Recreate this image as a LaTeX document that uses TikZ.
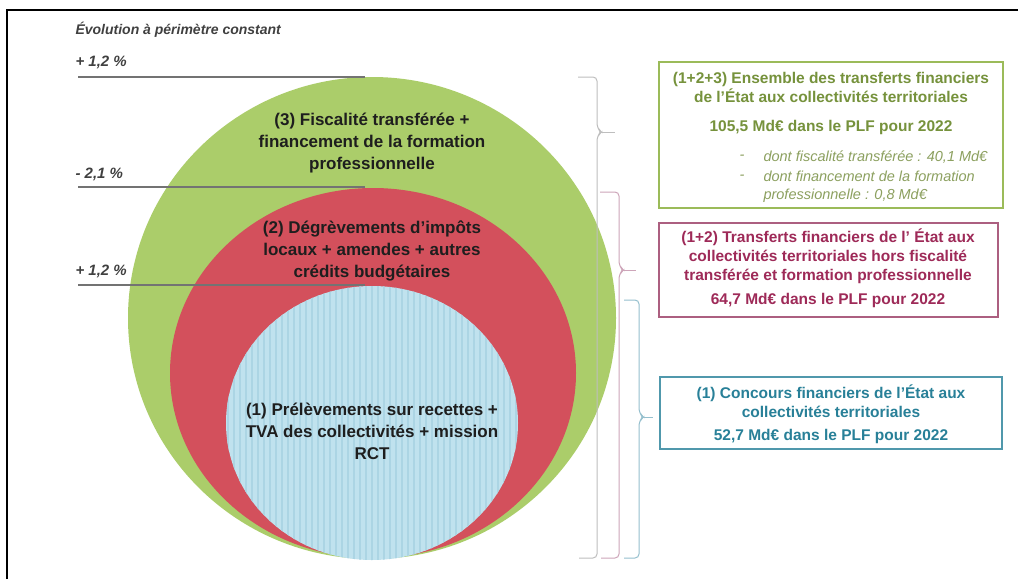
\documentclass[tikz,border=0pt]{standalone}
\usepackage{fontspec}
\setmainfont{Liberation Sans}
\usetikzlibrary{shapes.geometric}
\definecolor{cgreen}{RGB}{171,205,106}
\definecolor{cred}{RGB}{211,80,92}
\definecolor{cblue}{RGB}{192,226,238}
\definecolor{cbluestripe}{RGB}{172,213,228}
\definecolor{gtext}{RGB}{118,146,60}
\definecolor{gitalic}{RGB}{140,160,95}
\definecolor{gborder}{RGB}{155,187,89}
\definecolor{ptext}{RGB}{158,42,88}
\definecolor{pborder}{RGB}{172,95,128}
\definecolor{btext}{RGB}{40,128,152}
\definecolor{bborder}{RGB}{80,152,172}
\definecolor{brgray}{RGB}{190,190,190}
\definecolor{brpink}{RGB}{205,165,185}
\definecolor{brblue}{RGB}{150,192,206}
\definecolor{lgray}{RGB}{115,115,115}
\definecolor{dtext}{RGB}{30,30,30}
\tikzset{
  circtext/.style={align=center, font=\fontsize{17}{22}\selectfont\bfseries, text=dtext},
  pct/.style={anchor=west, font=\fontsize{15}{17}\selectfont\bfseries\itshape, text=dtext!85},
  refline/.style={draw=lgray, line width=1.6pt},
  bracket/.style={line width=1pt, rounded corners=4pt},
  boxhead/.style={align=center, font=\fontsize{15.5}{19}\selectfont\bfseries},
  itemtext/.style={anchor=west, text=gitalic, font=\fontsize{14.5}{18}\selectfont\itshape},
}
\begin{document}
\begin{tikzpicture}[x=1pt,y=-1pt]
\useasboundingbox (0,0) rectangle (1018,579);
\fill[white] (0,0) rectangle (1018,579);
% frame (top and left)
\draw[line width=1.2pt] (7,579) -- (7,10) -- (1018,10);

% circles
\fill[cgreen] (372,318) ellipse [x radius=244, y radius=241];
\fill[cred] (373,373) ellipse [x radius=203, y radius=185];
\begin{scope}
  \clip (372,423) ellipse [x radius=146, y radius=137];
  \fill[cblue] (220,280) rectangle (525,565);
  \foreach \x in {222,228,...,522} \draw[cbluestripe, line width=1.4pt] (\x,280) -- (\x,565);
\end{scope}

% reference lines
\draw[refline] (78,77) -- (365,77);
\draw[refline] (78,187) -- (365,187);
\draw[refline] (78,285) -- (365,285);

\node[anchor=west, font=\fontsize{14}{16}\selectfont\bfseries\itshape, text=dtext!85] (title) at (72,30) {Évolution à périmètre constant};
\node[pct] (p1) at (72,62) {+ 1,2 \%};
\node[pct] (p2) at (72,174) {- 2,1 \%};
\node[pct] (p3) at (72,271) {+ 1,2 \%};

% circle texts
\node[circtext] (t3) at (372,143) {(3) Fiscalité transférée +\\financement de la formation\\professionnelle};
\node[circtext] (t2) at (372,251) {(2) Dégrèvements d’impôts\\locaux + amendes + autres\\crédits budgétaires};
\node[circtext] (t1) at (372,431) {(1) Prélèvements sur recettes +\\TVA des collectivités + mission\\RCT};

% brackets
\draw[bracket, brgray] (578,77) -- (597,77) -- (597,128) -- (602,132) -- (597,136) -- (597,558) -- (579,558);
\draw[brgray, line width=1pt] (601,132) -- (615,132);
\draw[bracket, brpink] (600,192) -- (619,192) -- (619,266) -- (624,270) -- (619,274) -- (619,558) -- (601,558);
\draw[brpink, line width=1pt] (623,270) -- (636,270);
\draw[bracket, brblue] (624,300) -- (639,300) -- (639,413) -- (644,417) -- (639,421) -- (639,558) -- (624,558);
\draw[brblue, line width=1pt] (643,417) -- (653,417);

% boxes
\draw[gborder, line width=1.3pt] (659,62) rectangle (1003,208);
\node[boxhead, text=gtext] (g1) at (831,87) {(1+2+3) Ensemble des transferts financiers\\de l’État aux collectivités territoriales};
\node[boxhead, text=gtext] (g2) at (831,127) {105,5 Md€ dans le PLF pour 2022};
\node[itemtext] (gd1) at (736,157) {-};
\node[itemtext] (gi1) at (760,157) {dont fiscalité transférée : 40,1 Md€};
\node[itemtext] (gd2) at (736,177) {-};
\node[itemtext, align=left, anchor=north west] (gi2) at (760,167) {dont financement de la formation\\professionnelle : 0,8 Md€};

\draw[pborder, line width=1.3pt] (659,223) rectangle (998,317);
\node[boxhead, text=ptext] (r1) at (828,256) {(1+2) Transferts financiers de l’ État aux\\collectivités territoriales hors fiscalité\\transférée et formation professionnelle};
\node[boxhead, text=ptext] (r2) at (828,300) {64,7 Md€ dans le PLF pour 2022};

\draw[bborder, line width=1.3pt] (660,377) rectangle (1002,449);
\node[boxhead, text=btext] (b1) at (831,401) {(1) Concours financiers de l’État aux\\collectivités territoriales};
\node[boxhead, text=btext] (b2) at (831,436) {52,7 Md€ dans le PLF pour 2022};
\end{tikzpicture}
\end{document}
